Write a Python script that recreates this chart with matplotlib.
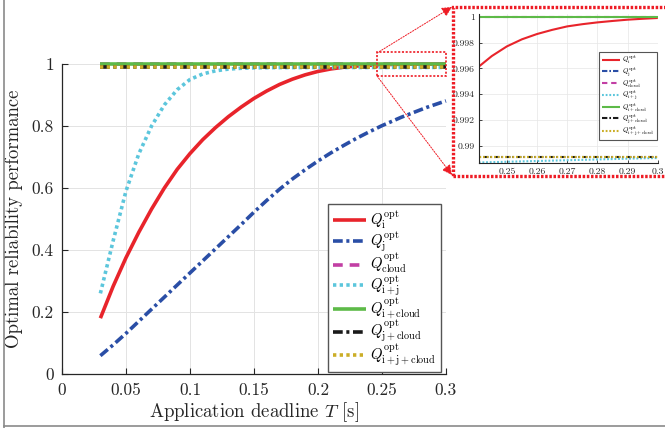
import numpy as np
import matplotlib
matplotlib.use("Agg")
import matplotlib.pyplot as plt
from matplotlib.lines import Line2D
from matplotlib.patches import Rectangle, FancyArrowPatch
from matplotlib.ticker import FuncFormatter

# DATOS
T = [0.03, 0.04, 0.05, 0.06, 0.07, 0.08, 0.09, 0.10, 0.11, 0.12, 0.13,
     0.14, 0.15, 0.16, 0.17, 0.18, 0.19, 0.20, 0.21, 0.22, 0.23,
     0.24, 0.245, 0.25, 0.255, 0.26, 0.265, 0.27, 0.275, 0.28, 0.285,
     0.29, 0.295, 0.30]

Q_i = [0.180, 0.283, 0.375, 0.457, 0.532, 0.600, 0.660, 0.711, 0.756,
       0.795, 0.830, 0.861, 0.889, 0.913, 0.934, 0.951, 0.965, 0.976,
       0.984, 0.9895, 0.9933,
       0.9960, 0.99695, 0.9977, 0.99825, 0.99866, 0.99898, 0.99925,
       0.99942, 0.99956, 0.99967, 0.99977, 0.99984, 0.9999]

Q_j = [0.059, 0.094, 0.131, 0.170, 0.209, 0.248, 0.287, 0.326, 0.365,
       0.404, 0.443, 0.482, 0.522, 0.560, 0.596, 0.629, 0.659, 0.687,
       0.713, 0.737, 0.760,
       0.781, 0.791, 0.801, 0.810, 0.819, 0.828, 0.836, 0.844, 0.852,
       0.860, 0.867, 0.874, 0.881]

Q_ij = [0.260, 0.430, 0.590, 0.710, 0.800, 0.868, 0.917, 0.950, 0.968,
        0.978, 0.9835, 0.9862, 0.9875, 0.9881, 0.9884, 0.9885, 0.9886,
        0.98865, 0.98867, 0.98868, 0.98869,
        0.98870, 0.98873, 0.98876, 0.98879, 0.98882, 0.98885, 0.98888,
        0.98891, 0.98894, 0.98897, 0.98900, 0.98903, 0.98905]

Q_cloud = [0.99995] * len(T)
Q_icloud = [1.0] * len(T)
Q_jcloud = [0.98912] * len(T)
Q_ijcloud = [0.98912] * len(T)

series = [
    (Q_i, r"$Q_{\mathrm{i}}^{\mathrm{opt}}$", "#E8242B", None),
    (Q_j, r"$Q_{\mathrm{j}}^{\mathrm{opt}}$", "#2A4EA6", (7, 2.6, 2.2, 2.6)),
    (Q_cloud, r"$Q_{\mathrm{cloud}}^{\mathrm{opt}}$", "#C23FA4", (7, 5)),
    (Q_ij, r"$Q_{\mathrm{i+j}}^{\mathrm{opt}}$", "#5CC6DC", (2.4, 2.4)),
    (Q_icloud, r"$Q_{\mathrm{i+cloud}}^{\mathrm{opt}}$", "#5DBA48", None),
    (Q_jcloud, r"$Q_{\mathrm{j+cloud}}^{\mathrm{opt}}$", "#1A1A1A", (7, 2.6, 2.2, 2.6)),
    (Q_ijcloud, r"$Q_{\mathrm{i+j+cloud}}^{\mathrm{opt}}$", "#CBAE28", (2.4, 2.4)),
]

plt.rcParams["font.family"] = "cmr10"
plt.rcParams["mathtext.fontset"] = "cm"
plt.rcParams["axes.formatter.use_mathtext"] = True
plt.rcParams["lines.scale_dashes"] = False
txt = "#262626"

fig = plt.figure(figsize=(6.65, 4.28), dpi=100)
fmt = FuncFormatter(lambda v, _: f"{v:g}")

# GRÁFICA PRINCIPAL
ax = fig.add_axes([0.0932, 0.1262, 0.5774, 0.7243])
for y, lab, col, dash in series:
    ln, = ax.plot(T, y, color=col, lw=2.6, label=lab, clip_on=False,
                  solid_capstyle="butt", dash_capstyle="butt")
    if dash:
        ln.set_dashes(dash)

ax.set_xlim(0, 0.3)
ax.set_ylim(0, 1)
ax.set_xticks(np.arange(0, 0.31, 0.05))
ax.set_yticks(np.arange(0, 1.01, 0.2))
ax.xaxis.set_major_formatter(fmt)
ax.yaxis.set_major_formatter(fmt)
ax.tick_params(direction="in", length=4, width=0.8, labelsize=12.5,
               colors=txt, pad=6)
ax.spines[["top", "right"]].set_visible(False)
for s in ("left", "bottom"):
    ax.spines[s].set_color(txt)
    ax.spines[s].set_linewidth(0.9)
ax.grid(True, color="#e3e3e3", lw=0.7)
ax.set_axisbelow(True)
ax.set_xlabel(r"Application deadline $T$ [s]", fontsize=13.5, color=txt, labelpad=2)
ax.set_ylabel("Optimal reliability performance", fontsize=13.5, color=txt, labelpad=6)

leg = ax.legend(loc="upper right", bbox_to_anchor=(0.663, 0.523),
                bbox_transform=fig.transFigure, borderaxespad=0,
                fontsize=10.5, handlelength=2.3,
                labelspacing=-0.12, borderpad=0.3, handletextpad=0.3,
                fancybox=False, framealpha=1, edgecolor="#555555")
leg.get_frame().set_linewidth(1.0)

# RECUADRO DE AMPLIACIÓN
ins = fig.add_axes([0.720, 0.619, 0.2692, 0.348])
for y, lab, col, dash in series:
    ln, = ins.plot(T, y, color=col, lw=1.5, label=lab,
                   solid_capstyle="butt", dash_capstyle="butt")
    if dash:
        ln.set_dashes([d * 0.55 for d in dash])
ins.set_xlim(0.2407, 0.3)
ins.set_ylim(0.98866, 1.0002)
ins.set_xticks(np.arange(0.25, 0.301, 0.01))
ins.set_yticks(np.arange(0.99, 1.0001, 0.002))
ins.xaxis.set_major_formatter(fmt)
ins.yaxis.set_major_formatter(FuncFormatter(lambda v, _: f"{round(v, 3):g}"))
ins.tick_params(direction="in", length=2.5, width=0.6, labelsize=7,
                colors=txt, pad=3)
ins.spines[["top", "right"]].set_visible(False)
for s in ("left", "bottom"):
    ins.spines[s].set_color(txt)
    ins.spines[s].set_linewidth(0.8)
ins.grid(True, color="#e6e6e6", lw=0.5)
ins.set_axisbelow(True)
ileg = ins.legend(loc="upper right", bbox_to_anchor=(0.988, 0.879),
                  bbox_transform=fig.transFigure, borderaxespad=0,
                  fontsize=5.0, handlelength=2.7,
                  labelspacing=-0.15, borderpad=0.3, handletextpad=0.3,
                  fancybox=False, framealpha=1, edgecolor="#555555")
ileg.get_frame().set_linewidth(0.8)

# ANOTACIONES (coordenadas en píxeles de la figura)
W, H = 665, 428
def fx(px, py):
    return (px / W, 1 - py / H)

red = "#EE1C25"
fig.patches.append(Rectangle(fx(377, 76), 69 / W, 24 / H, transform=fig.transFigure,
                             fill=False, ec=red, lw=1.2, ls=(0, (1.5, 1.2))))
fig.patches.append(Rectangle(fx(453, 176), 220 / W, 169 / H, transform=fig.transFigure,
                             fill=False, ec=red, lw=2.4, ls=(0, (1.8, 1.2))))
for p0, p1 in [((377, 53), (452, 7)), ((377, 76), (452, 175))]:
    fig.patches.append(FancyArrowPatch(fx(*p0), fx(*p1), transform=fig.transFigure,
                                       arrowstyle="-|>,head_length=6,head_width=3",
                                       color=red, lw=0.7, ls=(0, (1, 1)),
                                       shrinkA=0, shrinkB=0))

# MARCO EXTERIOR
fig.lines.append(Line2D([4 / W, 4 / W], [0, 1], transform=fig.transFigure,
                        color="#8a8a8a", lw=1.2))
fig.lines.append(Line2D([4 / W, 1], [1 - 426 / H, 1 - 426 / H],
                        transform=fig.transFigure, color="#8a8a8a", lw=1.2))

fig.savefig("out.png", dpi=100)
